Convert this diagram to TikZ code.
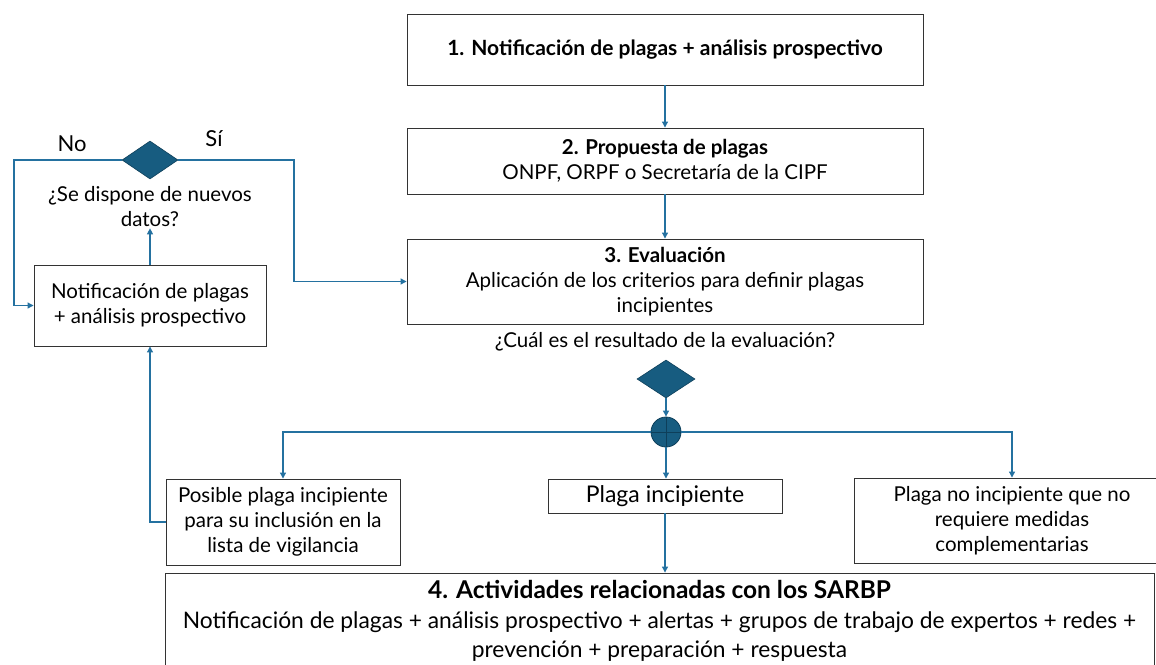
\documentclass[tikz,border=0pt]{standalone}
\usepackage{fontspec}
\setmainfont{Lato}
\usetikzlibrary{shapes.geometric,arrows.meta}
\definecolor{conn}{HTML}{2471A0}
\definecolor{dfill}{HTML}{175C80}
\definecolor{dline}{HTML}{0E3F5A}
\tikzset{
  box/.style={draw=black!80, line width=0.9pt, fill=white, align=center, inner sep=2pt,
    font=\fontsize{20.5}{25}\selectfont},
  arr/.style={draw=conn, line width=1.1pt, -{Triangle[length=6pt,width=6pt]}},
  dia/.style={diamond, draw=dline, fill=dfill, line width=0.6pt, inner sep=0pt},
  lbl/.style={align=center, inner sep=1pt, font=\fontsize{20.5}{25}\selectfont},
}
\begin{document}
\begin{tikzpicture}[x=1pt,y=-1pt]
\useasboundingbox (0,0) rectangle (1156,664);
\node[box, minimum width=516, minimum height=71, font=\fontsize{21}{25}\selectfont] (b1) at (665,49.5)
  {\bfseries 1. Notificación de plagas + análisis prospectivo};
\node[box, minimum width=516, minimum height=66] (b2) at (665,161)
  {\bfseries 2. Propuesta de plagas\\ONPF, ORPF o Secretaría de la CIPF};
\node[box, minimum width=516, minimum height=85] (b3) at (665,281.5)
  {\bfseries 3. Evaluación\\Aplicación de los criterios para definir plagas\\incipientes};
\node[lbl] (q2) at (665,342) {¿Cuál es el resultado de la evaluación?};
\node[dia, minimum width=58, minimum height=38] (d2) at (666,379) {};
\node[circle, draw=dline, fill=dfill, line width=0.8pt, minimum size=30, inner sep=0pt] (c) at (666,432) {};
\draw[dline, line width=0.8pt] (c.north) -- (c.south) (c.west) -- (c.east);
\node[box, minimum width=234, minimum height=86] (lp) at (283,522)
  {Posible plaga incipiente\\para su inclusión en la\\lista de vigilancia};
\node[box, minimum width=234, minimum height=34, font=\fontsize{23}{25}\selectfont] (mid) at (665,496)
  {Plaga incipiente};
\node[box, minimum width=316, minimum height=85] (rb) at (1012,520.5)
  {Plaga no incipiente que no\\requiere medidas\\complementarias};
\node[box, minimum width=989, minimum height=96, inner sep=1pt, font=\fontsize{22.8}{29.5}\selectfont] (b4) at (659.5,621)
  {{\fontsize{24.5}{29.5}\selectfont\bfseries 4. Actividades relacionadas con los SARBP}\\Notificación de plagas + análisis prospectivo + alertas + grupos de trabajo de expertos + redes +\\prevención + preparación + respuesta};
\node[box, minimum width=232, minimum height=81] (nt) at (150,305.5)
  {Notificación de plagas\\+ análisis prospectivo};
\node[lbl] (q1) at (150,207) {¿Se dispone de nuevos\\datos?};
\node[dia, minimum width=56, minimum height=38] (d1) at (150,160) {};
\node[lbl, font=\fontsize{22}{24}\selectfont] (no) at (72,144) {No};
\node[lbl, font=\fontsize{22}{24}\selectfont] (si) at (214,139) {Sí};
\coordinate (nl) at (14,160);
\coordinate (sr) at (294,160);
\draw[arr] (b1.south) -- (b2.north);
\draw[arr] (b2.south) -- (b3.north);
\draw[arr] (d2.south) -- (c.north);
\draw[arr] (c.west) -| (lp.north);
\draw[arr] (c.east) -| (rb.north);
\draw[arr] (c.south) -- (c.south |- mid.north);
\draw[arr] (mid.south) -- (mid.south |- b4.north);
\draw[arr] (lp.west) -| (nt.south);
\draw[arr] (nt.north) -- (q1.south);
\draw[arr] (d1.west) -- (nl) |- (nt.west);
\draw[arr] (d1.east) -- (sr) |- (b3.west);
\end{tikzpicture}
\end{document}
